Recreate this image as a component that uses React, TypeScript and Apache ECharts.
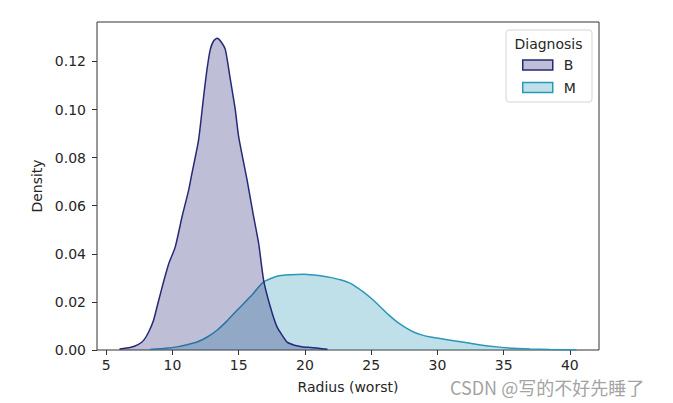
import React, { useEffect, useRef } from "react";
import * as echarts from "echarts";

// KDE curve of "Radius (worst)" for diagnosis B (benign)
const bX = [6.0, 6.8, 7.4, 7.82, 8.2, 8.57, 8.95, 9.33, 9.71, 10.21, 10.72, 11.22, 11.47, 11.97, 12.35, 12.6, 12.85, 13.1, 13.36, 13.65, 13.99, 14.37, 14.74, 15.0, 15.63, 16.08, 16.5, 16.88, 17.39, 17.89, 18.3, 18.65, 19.2, 19.65, 20.3, 20.9, 21.7];
const bY = [0.0004, 0.001, 0.0022, 0.004, 0.0075, 0.0124, 0.0205, 0.0285, 0.0358, 0.0429, 0.0554, 0.0665, 0.0735, 0.0874, 0.1054, 0.1165, 0.1249, 0.1285, 0.1296, 0.1283, 0.1249, 0.1124, 0.0999, 0.0885, 0.0707, 0.0568, 0.0445, 0.029, 0.0179, 0.0096, 0.006, 0.0033, 0.002, 0.0015, 0.0011, 0.0008, 0.0003];

// KDE curve for diagnosis M (malignant)
const mX = [8.3, 9.5, 10.34, 11.1, 11.85, 12.6, 13.36, 14.1, 14.87, 15.87, 16.88, 17.89, 18.9, 19.9, 20.65, 21.4, 21.9, 22.67, 23.43, 24.4, 25.0, 25.7, 26.3, 26.95, 27.6, 28.2, 28.8, 29.47, 30.73, 32.0, 33.25, 34.5, 35.76, 37.0, 38.5, 40.5];
const mY = [0.0002, 0.0007, 0.0013, 0.0022, 0.0033, 0.0053, 0.0082, 0.012, 0.0165, 0.0221, 0.0283, 0.0307, 0.0313, 0.0315, 0.0312, 0.0307, 0.0302, 0.0292, 0.0277, 0.0242, 0.0215, 0.0179, 0.0147, 0.0117, 0.0093, 0.0075, 0.0063, 0.0054, 0.0043, 0.0032, 0.0021, 0.0013, 0.0007, 0.0004, 0.0002, 0.0];

const xTicks = [5, 10, 15, 20, 25, 30, 35, 40];
const yTicks = [0, 0.02, 0.04, 0.06, 0.08, 0.1, 0.12];
const seriesNames = ["B", "M"];
const legendTitle = "Diagnosis";
const xName = "Radius (worst)";
const yName = "Density";
const watermark = "CSDN @写的不好先睡了";

const B_COLOR = "#272977";
const M_COLOR = "#2a97b6";
const FONT = "DejaVu Sans";

function zip(xs: number[], ys: number[]) {
  return xs.map((x, i) => [x, ys[i]]);
}

export default function App() {
  const ref = useRef<HTMLDivElement>(null);
  useEffect(() => {
    if (!ref.current) return;
    const chart = echarts.init(ref.current, null, { renderer: "svg" });
    const option: any = {
      animation: false,
      grid: {
        left: 97,
        top: 22,
        right: 74,
        bottom: 53,
        show: true,
        borderColor: "#333",
        borderWidth: 1,
        backgroundColor: "transparent",
      },
      xAxis: {
        type: "value",
        min: 4.3,
        max: 42.2,
        name: xName,
        nameLocation: "middle",
        nameGap: 30,
        nameTextStyle: { fontFamily: FONT, fontSize: 14, color: "#262626" },
        axisLine: { show: false },
        splitLine: { show: false },
        axisTick: {
          show: true,
          length: 5,
          lineStyle: { color: "#333" },
          customValues: xTicks,
        },
        axisLabel: {
          fontFamily: FONT,
          fontSize: 14,
          color: "#262626",
          margin: 8,
          customValues: xTicks,
          formatter: (v: number) => String(v),
        },
      },
      yAxis: {
        type: "value",
        min: 0,
        max: 0.1364,
        name: yName,
        nameLocation: "middle",
        nameGap: 52,
        nameTextStyle: { fontFamily: FONT, fontSize: 14, color: "#262626" },
        axisLine: { show: false },
        splitLine: { show: false },
        axisTick: {
          show: true,
          length: 5,
          lineStyle: { color: "#333" },
          customValues: yTicks,
        },
        axisLabel: {
          fontFamily: FONT,
          fontSize: 14,
          color: "#262626",
          margin: 11,
          customValues: yTicks,
          formatter: (v: number) => v.toFixed(2),
        },
      },
      legend: {
        orient: "vertical",
        left: 522,
        top: 58,
        padding: 0,
        itemGap: 8.5,
        itemWidth: 30,
        itemHeight: 10,
        selectedMode: false,
        textStyle: { fontFamily: FONT, fontSize: 14, color: "#262626", padding: [0, 0, 0, 6] },
        data: [
          {
            name: seriesNames[0],
            icon: "rect",
            itemStyle: { color: "rgba(39,41,119,0.3)", borderColor: B_COLOR, borderWidth: 1.5 },
          },
          {
            name: seriesNames[1],
            icon: "rect",
            itemStyle: { color: "rgba(42,151,182,0.3)", borderColor: M_COLOR, borderWidth: 1.5 },
          },
        ],
      },
      graphic: [
        {
          type: "rect",
          shape: { x: 506, y: 30, width: 86, height: 72, r: 3 },
          style: { fill: "rgba(255,255,255,0.8)", stroke: "#d4d4d4", lineWidth: 1 },
          z: 1,
        },
        {
          type: "text",
          x: 548.5,
          y: 44,
          style: {
            text: legendTitle,
            fontFamily: FONT,
            fontSize: 14,
            fill: "#262626",
            align: "center",
            verticalAlign: "middle",
          },
          z: 2,
        },
        {
          type: "text",
          x: 450,
          y: 387,
          style: {
            text: watermark,
            fontFamily: "Noto Sans CJK SC",
            fontSize: 18,
            lineHeight: 16,
            fill: "#a3a3a3",
            align: "left",
            verticalAlign: "middle",
          },
          z: 10,
        },
      ],
      series: [
        {
          name: seriesNames[1],
          type: "line",
          data: zip(mX, mY),
          showSymbol: false,
          symbol: "none",
          smooth: 0.2,
          lineStyle: { color: M_COLOR, width: 1.5 },
          itemStyle: { color: M_COLOR },
          areaStyle: { color: M_COLOR, opacity: 0.3 },
          z: 2,
        },
        {
          name: seriesNames[0],
          type: "line",
          data: zip(bX, bY),
          showSymbol: false,
          symbol: "none",
          smooth: 0.2,
          lineStyle: { color: B_COLOR, width: 1.5 },
          itemStyle: { color: B_COLOR },
          areaStyle: { color: B_COLOR, opacity: 0.3 },
          z: 3,
        },
      ],
    };
    chart.setOption(option);
    return () => chart.dispose();
  }, []);
  return (
    <div
      ref={ref}
      style={{ position: "absolute", left: 0, top: 0, width: 673, height: 403, background: "#fff" }}
    />
  );
}
